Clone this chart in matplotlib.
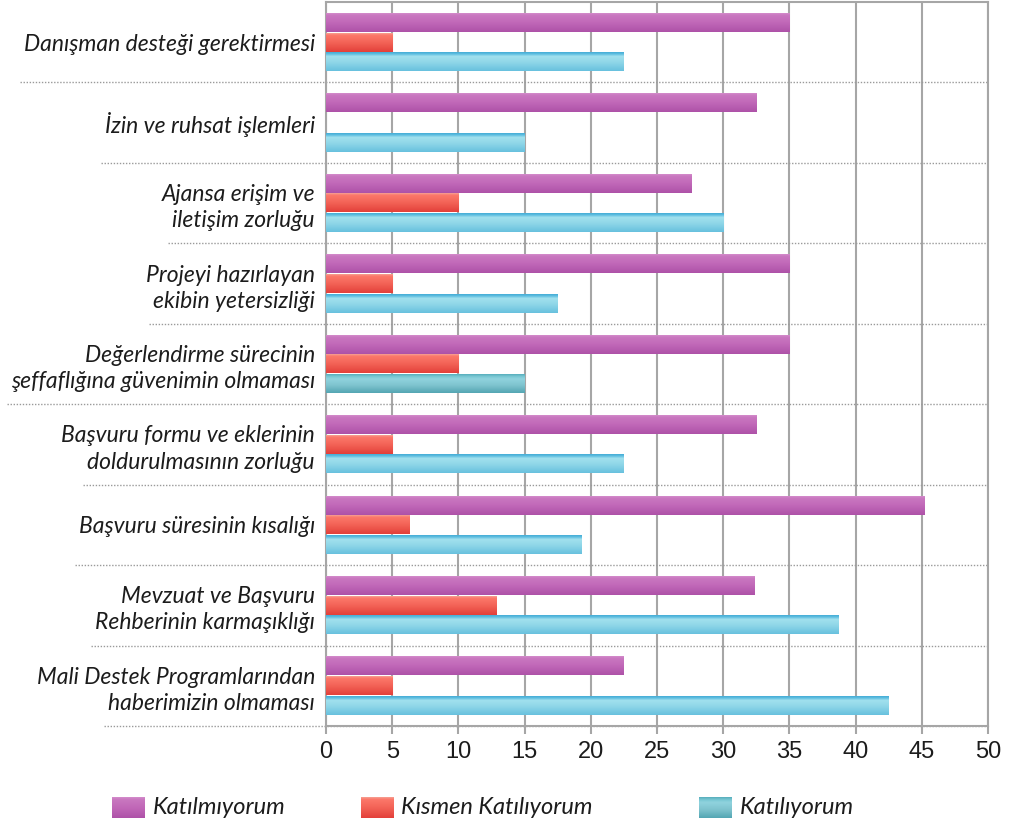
import numpy as np
import matplotlib
matplotlib.use("Agg")
import matplotlib.pyplot as plt
from matplotlib.colors import LinearSegmentedColormap
from matplotlib.transforms import blended_transform_factory

categories = [
    "Danışman desteği gerektirmesi",
    "İzin ve ruhsat işlemleri",
    "Ajansa erişim ve\niletişim zorluğu",
    "Projeyi hazırlayan\nekibin yetersizliği",
    "Değerlendirme sürecinin\nşeffaflığına güvenimin olmaması",
    "Başvuru formu ve eklerinin\ndoldurulmasının zorluğu",
    "Başvuru süresinin kısalığı",
    "Mevzuat ve Başvuru\nRehberinin karmaşıklığı",
    "Mali Destek Programlarından\nhaberimizin olmaması",
]
katilmiyorum = [35.0, 32.5, 27.6, 35.0, 35.0, 32.5, 45.2, 32.4, 22.5]
kismen = [5.0, 0.0, 10.0, 5.0, 10.0, 5.0, 6.3, 12.9, 5.0]
katiliyorum = [22.5, 15.0, 30.0, 17.5, 15.0, 22.5, 19.3, 38.7, 42.5]
series_names = ["Katılmıyorum", "Kısmen Katılıyorum", "Katılıyorum"]
x_ticks = [0, 5, 10, 15, 20, 25, 30, 35, 40, 45, 50]

cm_purple = LinearSegmentedColormap.from_list("p", [(0, "#d48ccb"), (0.1, "#c978c0"), (0.5, "#c168b8"), (1, "#ae52a8")])
cm_red = LinearSegmentedColormap.from_list("r", [(0, "#f6a093"), (0.1, "#fc786a"), (0.5, "#f36357"), (1, "#e3403a")])
cm_blue = LinearSegmentedColormap.from_list("b", [(0, "#45acd6"), (0.1, "#60bfe1"), (0.22, "#a2e1ee"), (0.55, "#8ed6e8"), (1, "#68c1de")])
cm_teal = LinearSegmentedColormap.from_list("t", [(0, "#58aebc"), (0.12, "#78c7d3"), (0.25, "#90d3de"), (0.6, "#7ec3ce"), (1, "#54a6b3")])
series_cmaps = [cm_purple, cm_red, cm_blue]

label_font = ["Lato", "DejaVu Sans"]
tick_font = ["Liberation Sans Narrow", "Liberation Sans", "DejaVu Sans"]
text_color = "#1c1c1c"
axis_gray = "#a6a6a6"
label_size = 16.5

fig = plt.figure(figsize=(10.11, 8.27), dpi=100)
ax = fig.add_axes([326 / 1011, 1 - 726 / 827, (988 - 326) / 1011, (726 - 2) / 827])

grad = np.linspace(0, 1, 64).reshape(-1, 1)
bar_h = 0.232
offsets = [-0.245, 0.0, 0.245]
series = [katilmiyorum, kismen, katiliyorum]
for s, (vals, cmap, off) in enumerate(zip(series, series_cmaps, offsets)):
    for i, v in enumerate(vals):
        if v <= 0:
            continue
        c = cmap
        if s == 2 and i == 4:
            c = cm_teal
        yc = i + off
        ax.imshow(grad, cmap=c, aspect="auto", origin="upper",
                  extent=(0, v, yc + bar_h / 2, yc - bar_h / 2), zorder=3,
                  interpolation="bilinear")

ax.set_xlim(0, 50)
ax.set_ylim(len(categories) - 0.5, -0.5)
ax.set_xticks(x_ticks)
ax.set_xticklabels([str(t) for t in x_ticks], fontfamily=tick_font, fontsize=17, color=text_color)
ax.xaxis.grid(True, color=axis_gray, linewidth=1.5, zorder=1)
ax.set_axisbelow(True)
ax.tick_params(axis="x", direction="out", length=6, width=1.5, color=axis_gray, pad=5)
ax.set_yticks(range(len(categories)))
ax.set_yticklabels(categories, fontfamily=label_font, fontstyle="italic", fontsize=label_size,
                   color=text_color, linespacing=1.3)
ax.tick_params(axis="y", length=0, pad=8)
for sp in ax.spines.values():
    sp.set_color(axis_gray)
    sp.set_linewidth(1.5)

# dotted separators extending into the label area (start near the last label line)
fig.canvas.draw()
renderer = fig.canvas.get_renderer()
trans = blended_transform_factory(ax.transAxes, ax.transData)
inv = ax.transAxes.inverted()
for i, lab in enumerate(ax.get_yticklabels()):
    bb = lab.get_window_extent(renderer)
    last_line = lab.get_text().split("\n")[-1]
    tmp = fig.text(0, 0, last_line, fontfamily=label_font, fontstyle="italic", fontsize=label_size)
    w = tmp.get_window_extent(renderer).width
    tmp.remove()
    x0 = inv.transform((bb.x1 - w - 4, 0))[0]
    ax.plot([x0, 1], [i + 0.5, i + 0.5], transform=trans, clip_on=False,
            color="#9a9a9a", linewidth=1.0, linestyle=(0, (1, 1.2)), zorder=2)

# legend
leg_items = [(112, 153, cm_purple), (361, 401, cm_red), (699, 740, cm_teal)]
for (sx, tx, cmap), name in zip(leg_items, series_names):
    sax = fig.add_axes([sx / 1011, 1 - 818 / 827, 33 / 1011, 21 / 827])
    sax.imshow(grad, cmap=cmap, aspect="auto", interpolation="bilinear")
    sax.axis("off")
    fig.text(tx / 1011, 1 - 808 / 827, name, fontfamily=label_font, fontstyle="italic",
             fontsize=17, color=text_color, va="center", ha="left")

fig.savefig("out.png", dpi=100)
